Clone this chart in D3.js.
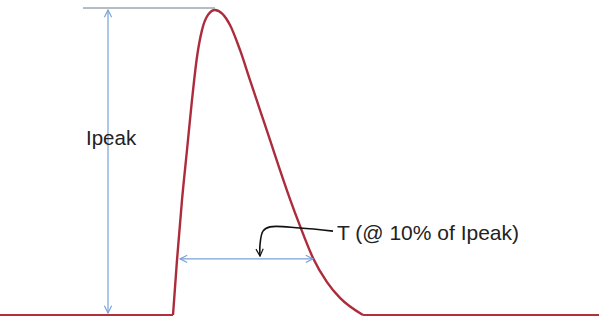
<!doctype html>
<html lang="en">
<head>
  <meta charset="UTF-8" />
  <script src="https://cdn.jsdelivr.net/npm/d3@7"></script>
  <style>
    html, body { margin: 0; padding: 0; background: #fff; }
    svg { display: block; }
    text { font-family: "Liberation Sans", Arial, sans-serif; fill: #222; }
  </style>
  <title>Ipeak</title>
</head>
<body>
  <script>
    // pulse, time in us (0 = start of rise), current as fraction of Ipeak
    var pulseTime = [0, 0.4, 0.9, 1.4, 1.9, 2.4, 2.9, 3.5, 4.2, 5.7, 6.7, 7.7, 8.7, 9.7, 10.7, 11.7, 12.7, 14.0, 15.4, 16.7, 19.0];
    var pulseCurrent = [0, 0.18, 0.377, 0.541, 0.705, 0.846, 0.934, 0.984, 1.0, 0.951, 0.869, 0.770, 0.672, 0.574, 0.475, 0.38, 0.292, 0.187, 0.108, 0.056, 0];
    var timeDomain = [-17.3, 42.6];

    // annotations (data units)
    var peakLine = [-9.0, 4.2];         // t range of the Ipeak reference line
    var ipeakArrowT = -6.5;
    var widthArrow = { t0: 0.7, t1: 14.0, i: 0.184 };
    var pointerT = [16.0, 12.7, 9.7, 9.0, 8.7, 8.7];
    var pointerI = [0.275, 0.285, 0.289, 0.275, 0.23, 0.193];
    var labels = ["Ipeak", "T (@ 10% of Ipeak)"];

    var width = 599, height = 317;
    var svg = d3.select("body").append("svg")
      .attr("width", width).attr("height", height);

    var x = d3.scaleLinear().domain(timeDomain).range([0, width]);
    var y = d3.scaleLinear().domain([0, 1]).range([315, 10]);

    var defs = svg.append("defs");
    function marker(id, color) {
      defs.append("marker")
        .attr("id", id)
        .attr("viewBox", "0 0 10 10")
        .attr("refX", 9).attr("refY", 5)
        .attr("markerUnits", "userSpaceOnUse")
        .attr("markerWidth", 9).attr("markerHeight", 9)
        .attr("orient", "auto-start-reverse")
        .append("path")
        .attr("d", "M1,1 L9,5 L1,9")
        .attr("fill", "none")
        .attr("stroke", color)
        .attr("stroke-width", 1.3);
    }
    marker("blueArrow", "#7aa2d6");
    marker("blackArrow", "#111");

    // baseline
    svg.append("path")
      .attr("d", "M" + x(timeDomain[0]) + "," + y(0) + "H" + x(pulseTime[0]) +
        "M" + x(pulseTime[pulseTime.length - 1]) + "," + y(0) + "H" + x(timeDomain[1]))
      .attr("fill", "none").attr("stroke", "#b0303e").attr("stroke-width", 2);

    // pulse
    var pulse = pulseTime.map(function (t, i) { return [t, pulseCurrent[i]]; });
    svg.append("path")
      .datum(pulse)
      .attr("d", d3.line()
        .x(function (d) { return x(d[0]); })
        .y(function (d) { return y(d[1]); })
        .curve(d3.curveMonotoneX))
      .attr("fill", "none").attr("stroke", "#ad2c3c").attr("stroke-width", 2.4);

    // peak reference line
    svg.append("line")
      .attr("x1", x(peakLine[0])).attr("x2", x(peakLine[1]))
      .attr("y1", y(1) - 2).attr("y2", y(1) - 2)
      .attr("stroke", "#6f7a8c").attr("stroke-width", 1);

    // Ipeak double arrow
    svg.append("line")
      .attr("x1", x(ipeakArrowT)).attr("x2", x(ipeakArrowT))
      .attr("y1", y(1)).attr("y2", y(0) - 2)
      .attr("stroke", "#7aa2d6").attr("stroke-width", 1.2)
      .attr("marker-start", "url(#blueArrow)")
      .attr("marker-end", "url(#blueArrow)");

    // T width double arrow
    svg.append("line")
      .attr("x1", x(widthArrow.t0)).attr("x2", x(widthArrow.t1))
      .attr("y1", y(widthArrow.i)).attr("y2", y(widthArrow.i))
      .attr("stroke", "#7aa2d6").attr("stroke-width", 1.2)
      .attr("marker-start", "url(#blueArrow)")
      .attr("marker-end", "url(#blueArrow)");

    // pointer
    var pointer = pointerT.map(function (t, i) { return [t, pointerI[i]]; });
    svg.append("path")
      .datum(pointer)
      .attr("d", d3.line()
        .x(function (d) { return x(d[0]); })
        .y(function (d) { return y(d[1]); })
        .curve(d3.curveCatmullRom))
      .attr("fill", "none").attr("stroke", "#111").attr("stroke-width", 1.6)
      .attr("marker-end", "url(#blackArrow)");

    svg.append("text")
      .attr("x", x(-8.7)).attr("y", y(0.557))
      .style("font-size", "20.5px")
      .text(labels[0]);

    svg.append("text")
      .attr("x", x(16.4)).attr("y", y(0.246))
      .style("font-size", "21px")
      .text(labels[1]);
  </script>
</body>
</html>
